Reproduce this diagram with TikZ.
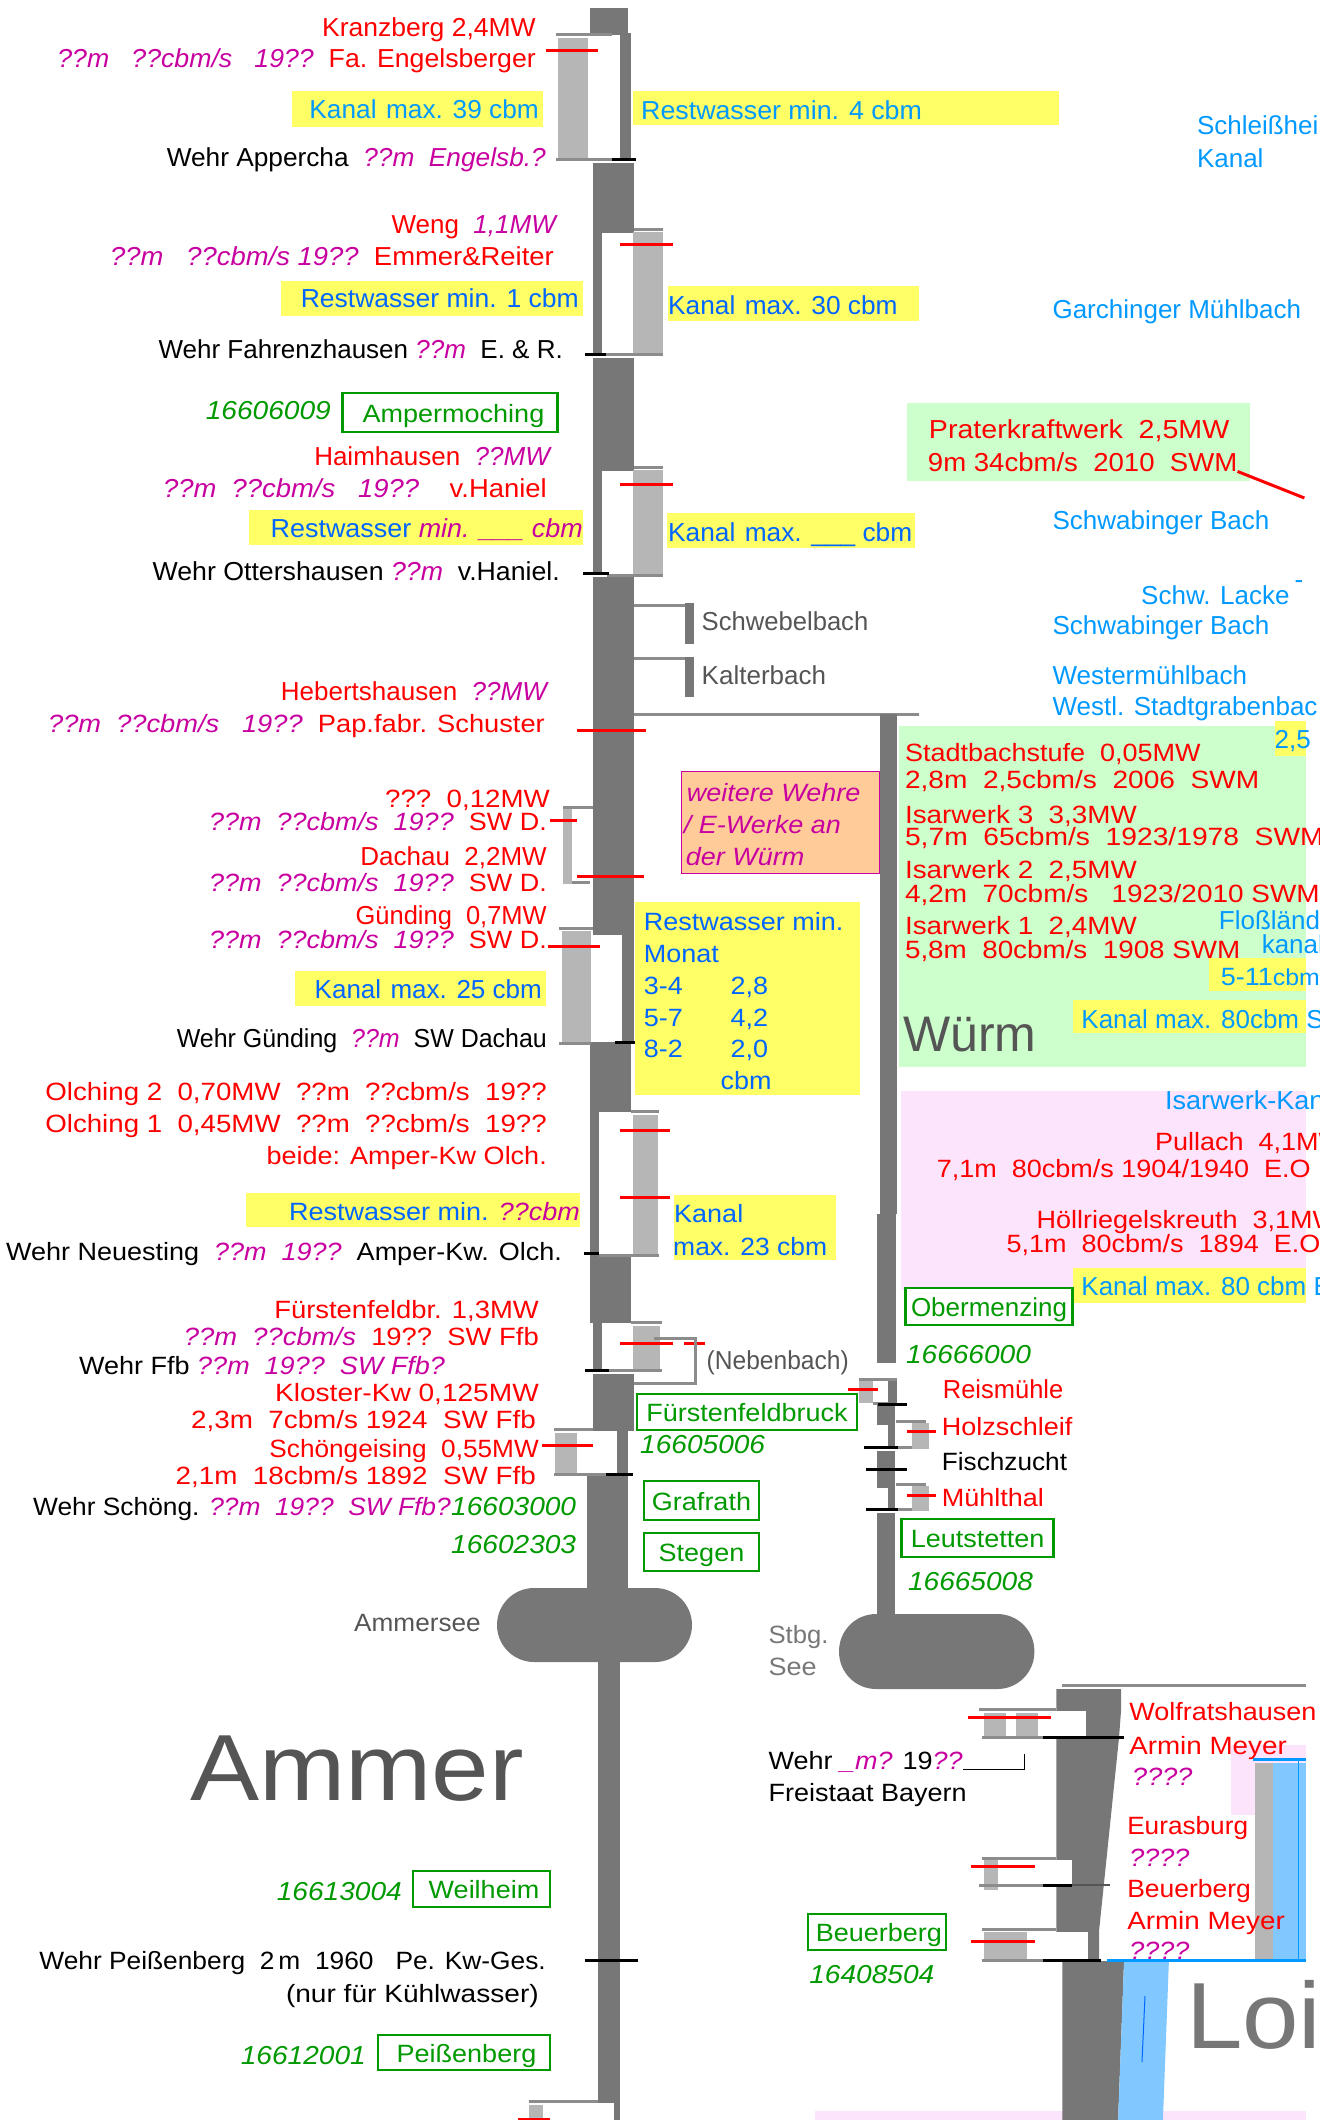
\documentclass[tikz,border=0pt]{standalone}
\usepackage{graphicx}
\usepackage{fontspec}
\setmainfont{Liberation Sans}
\newfontfamily\wfont[FakeStretch=1.08]{Liberation Sans}
\definecolor{rivergrey}{HTML}{777777}
\definecolor{canalgrey}{HTML}{B6B6B6}
\definecolor{sillgrey}{HTML}{8C8C8C}
\definecolor{labelgrey}{HTML}{555555}
\definecolor{unknownmag}{HTML}{C800A0}
\definecolor{flowblue}{HTML}{0066FF}
\definecolor{namedblue}{HTML}{0099FF}
\definecolor{hiyellow}{HTML}{FFFF66}
\definecolor{hipink}{HTML}{FCE4FC}
\definecolor{higreen}{HTML}{CCFFCC}
\definecolor{hiorange}{HTML}{FFCC99}
\definecolor{gaugegreen}{HTML}{009900}
\definecolor{lightwater}{HTML}{80C8FF}
\newcommand{\unk}[1]{{\itshape\color{unknownmag}#1}}
\newcommand{\sx}[2]{\scalebox{#1}[1]{#2}}
\newcommand{\gap}{\hspace{.36em}}
\tikzset{
  every node/.style={font=\fontsize{26}{30}\selectfont,inner sep=0pt},
  wide/.style={font=\wfont\fontsize{25}{30}\selectfont},
  lt/.style={anchor=base west},
  rt/.style={anchor=base east},
  kwtext/.style={text=red},
  wehrtext/.style={text=black},
  flowtext/.style={text=flowblue},
  nametext/.style={text=namedblue},
  greytext/.style={text=labelgrey},
  gaugetext/.style={text=gaugegreen,font=\wfont\itshape\fontsize{26}{30}\selectfont},
  station/.style={draw=gaugegreen,line width=2.5pt,text=gaugegreen,anchor=center,text height=19pt,text depth=0pt},
  river/.style={fill=rivergrey},
  canal/.style={fill=canalgrey},
  whitecut/.style={fill=white},
  sill/.style={draw=sillgrey,line width=3pt},
  kwline/.style={draw=red,line width=3pt},
  wehrline/.style={draw=black,line width=3pt},
  rightcol/.style={x=0.9965pt}
}
\begin{document}
\begin{tikzpicture}[x=1pt,y=-1pt]
\useasboundingbox (0,0) rectangle (1325,2120);
\clip (0,0) rectangle (1319,2120);

% backgrounds
\begin{scope}[rightcol]
\fill[hipink] (1235,1745) rectangle (1311,1815);
\fill[hipink] (818,2111) rectangle (1311,2120);
\fill[higreen] (910,403) rectangle (1254,481);
\fill[higreen] (902,726) rectangle (1311,1067);
\fill[hipink] (904,1091) rectangle (1311,1290);
\fill[hiyellow] (1279,721) rectangle (1311,756);
\fill[hiyellow] (1213,958) rectangle (1311,991);
\fill[hiyellow] (1077,1000) rectangle (1311,1033);
\fill[hiyellow] (1077,1268) rectangle (1311,1303);
\end{scope}
\fill[hiyellow] (292,91) rectangle (543,127);
\fill[hiyellow] (633,91) rectangle (1059,125);
\fill[hiyellow] (281,281) rectangle (583,316);
\fill[hiyellow] (668,286) rectangle (919,321);
\fill[hiyellow] (249,510) rectangle (583,545);
\fill[hiyellow] (667,513) rectangle (915,548);
\fill[hiyellow] (295,971) rectangle (546,1006);
\fill[hiyellow] (635,902) rectangle (860,1095);
\fill[hiyellow] (246,1193) rectangle (580,1227);
\fill[hiyellow] (674,1195) rectangle (836,1260);
\draw[fill=hiorange,draw=unknownmag,line width=1pt] (681,771) rectangle (879,873);

% Amper and Ammer
\fill[river] (590,8) rectangle (628,35);
\fill[river] (620,33) rectangle (631,159);
\fill[river] (593,163) rectangle (634,233);
\fill[river] (593,233) rectangle (602,354);
\fill[river] (593,358) rectangle (634,471);
\fill[river] (593,471) rectangle (602,575);
\fill[river] (593,577) rectangle (634,935);
\fill[river] (622,935) rectangle (634,1042);
\fill[river] (590,1042) rectangle (631,1112);
\fill[river] (590,1112) rectangle (599,1254);
\fill[river] (590,1255) rectangle (631,1323);
\fill[river] (593,1323) rectangle (602,1370);
\fill[river] (593,1374) rectangle (634,1431);
\fill[river] (617,1431) rectangle (628,1474);
\fill[river] (587,1475) rectangle (628,1588);
\fill[river,rounded corners=37pt] (497,1588) rectangle (692,1662);
\fill[river] (598,1662) rectangle (620,2103);
\fill[river] (614,2103) rectangle (620,2120);

% canals left column
\fill[canal] (558,38) rectangle (588,158);
\fill[canal] (633,232) rectangle (663,354);
\fill[canal] (633,470) rectangle (663,575);
\fill[canal] (563,807) rectangle (572,884);
\fill[canal] (562,931) rectangle (591,1042);
\fill[canal] (633,1115) rectangle (658,1255);
\fill[canal] (633,1326) rectangle (660,1372);
\fill[canal] (555,1433) rectangle (577,1475);
\fill[canal] (529,2105) rectangle (543,2120);
\draw[sill] (556,34) -- (612,34);
\draw[sill] (556,159) -- (631,159);
\draw[sill] (634,229) -- (663,229);
\draw[sill] (602,354) -- (663,354);
\draw[sill] (634,467) -- (663,467);
\draw[sill] (607,575) -- (663,575);
\draw[sill] (563,807) -- (593,807);
\draw[sill] (572,882) -- (590,882);
\draw[sill] (559,928) -- (593,928);
\draw[sill] (559,1043) -- (591,1043);
\draw[sill] (631,1111) -- (659,1111);
\draw[sill] (599,1255) -- (659,1255);
\draw[sill] (631,1322) -- (662,1322);
\draw[sill] (602,1370) -- (662,1370);
\draw[sill] (554,1429) -- (593,1429);
\draw[sill] (554,1474) -- (617,1474);
\draw[sill] (529,2101) -- (598,2101);
\draw[kwline] (546,50) -- (598,50);
\draw[kwline] (620,244) -- (673,244);
\draw[kwline] (620,484) -- (673,484);
\draw[kwline] (577,730) -- (646,730);
\draw[kwline] (550,820) -- (577,820);
\draw[kwline] (577,876) -- (644,876);
\draw[kwline] (548,946) -- (600,946);
\draw[kwline] (620,1130) -- (670,1130);
\draw[kwline] (620,1197) -- (670,1197);
\draw[kwline] (620,1343) -- (673,1343);
\draw[kwline] (684,1343) -- (705,1343);
\draw[kwline] (542,1445) -- (593,1445);
\draw[kwline] (518,2119) -- (550,2119);
\draw[wehrline] (612,159) -- (636,159);
\draw[wehrline] (585,354) -- (606,354);
\draw[wehrline] (583,573) -- (609,573);
\draw[wehrline] (615,1042) -- (635,1042);
\draw[wehrline] (584,1253) -- (599,1253);
\draw[wehrline] (585,1370) -- (609,1370);
\draw[wehrline] (606,1474) -- (633,1474);
\draw[wehrline] (585,1960) -- (638,1960);

% tributaries
\draw[sill] (634,605) -- (687,605);
\fill[river] (685,603) rectangle (694,644);
\draw[sill] (634,658) -- (687,658);
\fill[river] (685,657) rectangle (694,697);
\draw[sill] (654,1338) -- (695,1338) -- (695,1383) -- (634,1383);
\draw[sill] (634,714) -- (919,714);

\begin{scope}[rightcol]
% Wuerm
\fill[river] (883,714) rectangle (900,1214);
\fill[river] (880,1214) rectangle (899,1363);
\fill[river] (891,1379) rectangle (900,1403);
\fill[canal] (862,1380) rectangle (876,1403);
\draw[sill] (862,1379) -- (900,1379);
\draw[sill] (876,1403) -- (891,1403);
\fill[river] (880,1404) rectangle (898,1425);
\fill[river] (891,1425) rectangle (898,1447);
\fill[canal] (915,1423) rectangle (932,1449);
\draw[sill] (899,1421) -- (929,1421);
\draw[sill] (899,1447) -- (915,1447);
\fill[river] (880,1451) rectangle (898,1488);
\fill[river] (891,1488) rectangle (898,1509);
\fill[canal] (915,1486) rectangle (932,1511);
\draw[sill] (899,1484) -- (929,1484);
\draw[sill] (899,1509) -- (915,1509);
\fill[river] (880,1513) rectangle (898,1614);
\fill[river,rounded corners=37pt] (842,1614) rectangle (1038,1689);
\draw[kwline] (851,1389) -- (881,1389);
\draw[kwline] (910,1431) -- (939,1431);
\draw[kwline] (910,1495) -- (939,1495);
\draw[wehrline] (881,1404) -- (910,1404);
\draw[wehrline] (867,1447) -- (901,1447);
\draw[wehrline] (869,1469) -- (910,1469);
\draw[wehrline] (869,1509) -- (901,1509);

% Isar and Loisach
\fill[river] (1060,1689) -- (1125,1689) -- (1125,1710) -- (1123,1737) -- (1103,1930) -- (1103,1960) -- (1060,1960) -- cycle;
\fill[whitecut] (1047,1711) rectangle (1090,1736);
\fill[whitecut] (1047,1860) rectangle (1076,1884);
\fill[whitecut] (1047,1932) rectangle (1092,1959);
\fill[river] (1066,1961) -- (1128,1961) -- (1122,2120) -- (1066,2120) -- cycle;
\fill[lightwater] (1128,1961) -- (1173,1961) -- (1167,2120) -- (1122,2120) -- cycle;
\draw[draw=flowblue,line width=1pt] (1149,1996) -- (1146,2062);
\fill[canalgrey] (1259,1763) rectangle (1277,1960);
\fill[lightwater] (1277,1763) rectangle (1311,1960);
\draw[draw=namedblue,line width=1pt] (1303,1760) -- (1303,1960);
\draw[draw=namedblue,line width=3pt] (1257,1759) -- (1311,1759);
\draw[sill] (1066,1685) -- (1311,1685);
\fill[canal] (987,1713) rectangle (1010,1737);
\fill[canal] (1020,1713) rectangle (1042,1737);
\fill[canal] (987,1859) rectangle (1001,1890);
\fill[canal] (987,1932) rectangle (1031,1960);
\draw[sill] (982,1709) -- (1060,1709);
\draw[sill] (985,1737) -- (1047,1737);
\draw[sill] (985,1858) -- (1060,1858);
\draw[sill] (982,1885) -- (1047,1885);
\draw[sill] (985,1929) -- (1060,1929);
\draw[sill] (985,1960) -- (1047,1960);
\draw[kwline] (971,1717) -- (1055,1717);
\draw[kwline] (974,1866) -- (1039,1866);
\draw[kwline] (974,1941) -- (1039,1941);
\draw[wehrline] (1047,1737) -- (1128,1737);
\draw[wehrline] (1047,1885) -- (1076,1885);
\draw[draw=labelgrey,line width=1.5pt] (1076,1885) -- (1114,1885);
\draw[wehrline] (1047,1960) -- (1105,1960);
\end{scope}

% Kranzberg to Neuesting
\node[rt,kwtext](kranzberg) at (536,36) {\sx{1.02}{Kranzberg 2,4MW}};
\node[rt,kwtext](kranzbergdata) at (536,67) {\sx{1.026}{\unk{??m~~~??cbm/s~~~19??}~~Fa. Engelsberger}};
\node[rt,nametext](kanalapp) at (539,118) {\sx{1.01}{Kanal\gap max. 39 cbm}};
\node[lt,nametext](restapp) at (641,119) {\sx{1.03}{Restwasser min. 4 cbm}};
\node[rt,wehrtext](wehrapp) at (546,166) {\sx{1.01}{Wehr Appercha~~\unk{??m~~Engelsb.?}}};
\node[rt,kwtext](weng) at (556,233) {Weng~~\unk{1,1MW}};
\node[rt,kwtext](wengdata) at (554,265) {\sx{1.055}{\unk{??m~~~??cbm/s 19??}~~Emmer\&Reiter}};
\node[rt,flowtext](restweng) at (579,307) {\sx{1.02}{Restwasser min. 1 cbm}};
\node[lt,flowtext](kanalweng) at (668,314) {\sx{1.01}{Kanal\gap max. 30 cbm}};
\node[rt,wehrtext](wehrfahr) at (563,358) {Wehr Fahrenzhausen \unk{??m}~~E. \& R.};
\node[rt,gaugetext](gaugeamp) at (331,419) {16606009};
\node[station,wide,minimum width=215pt,minimum height=39pt](ampermoching) at (450,412.5) {\hspace{7pt}Ampermoching};
\node[rt,kwtext](haimhausen) at (550,465) {Haimhausen~~\unk{??MW}};
\node[rt,kwtext](haimdata) at (547,497) {\sx{1.055}{\unk{??m~~??cbm/s~~~19??}~~~~v.Haniel}};
\node[rt,flowtext](resthaim) at (583,537) {\sx{1.035}{Restwasser \unk{min. \_\_\_ cbm}}};
\node[lt,flowtext](kanalhaim) at (668,541) {\sx{1.01}{Kanal\gap max. \_\_\_ cbm}};
\node[rt,wehrtext](wehrott) at (560,580) {\sx{1.027}{Wehr Ottershausen \unk{??m}~~v.Haniel.}};
\node[rt,kwtext](hebert) at (547,700) {Hebertshausen~~\unk{??MW}};
\node[rt,kwtext,wide](hebertdata) at (545,732) {\sx{1.01}{\unk{??m~~??cbm/s~~~19??}~~Pap.fabr. Schuster}};
\node[rt,kwtext,wide](dachauq) at (550,807) {\sx{1.025}{???~~0,12MW}};
\node[rt,kwtext,wide](dachauqdata) at (547,830) {\unk{??m~~??cbm/s~~19??}~~SW D.};
\node[rt,kwtext](dachau) at (547,865) {Dachau~~2,2MW};
\node[rt,kwtext,wide](dachaudata) at (547,891) {\unk{??m~~??cbm/s~~19??}~~SW D.};
\node[rt,kwtext](guending) at (547,924) {\sx{.98}{Günding~~0,7MW}};
\node[rt,kwtext,wide](guendingdata) at (547,948) {\unk{??m~~??cbm/s~~19??}~~SW D.};
\node[rt,flowtext](kanalguend) at (542,998) {Kanal\gap max. 25 cbm};
\node[rt,wehrtext](wehrguend) at (547,1047) {\sx{.96}{Wehr Günding~~\unk{??m}~~SW Dachau}};
\node[rt,kwtext,wide](olching2) at (547,1100) {\sx{1.025}{Olching 2~~0,70MW~~??m~~??cbm/s~~19??}};
\node[rt,kwtext,wide](olching1) at (547,1132) {\sx{1.025}{Olching 1~~0,45MW~~??m~~??cbm/s~~19??}};
\node[rt,kwtext,wide](olchingboth) at (547,1164) {beide: Amper-Kw Olch.};
\node[rt,flowtext,wide](restolch) at (580,1220) {Restwasser min. \unk{??cbm}};
\node[lt,flowtext,wide](kanalolch1) at (674,1222) {Kanal};
\node[lt,flowtext,wide](kanalolch2) at (673,1255) {\sx{.98}{max. 23 cbm}};
\node[rt,wehrtext,wide](wehrneu) at (562,1260) {Wehr Neuesting~~\unk{??m}~~\unk{19??}~~Amper-Kw. Olch.};

% Fuerstenfeldbruck to Peissenberg
\node[rt,kwtext,wide](ffb) at (539,1318) {\sx{1.015}{Fürstenfeldbr. 1,3MW}};
\node[rt,kwtext,wide](ffbdata) at (539,1345) {\sx{1.015}{\unk{??m~~??cbm/s}~~19??~~SW Ffb}};
\node[lt,wehrtext,wide](wehrffb) at (79,1374) {Wehr Ffb \unk{??m~~19??~~SW Ffb?}};
\node[rt,kwtext,wide](kloster) at (539,1401) {\sx{1.04}{Kloster-Kw 0,125MW}};
\node[rt,kwtext,wide](klosterdata) at (536,1428) {\sx{1.03}{2,3m~~7cbm/s 1924~~SW Ffb}};
\node[rt,kwtext,wide](schoen) at (539,1457) {\sx{.97}{Schöngeising~~0,55MW}};
\node[rt,kwtext,wide](schoendata) at (536,1484) {\sx{1.03}{2,1m~~18cbm/s 1892~~SW Ffb}};
\node[lt,wehrtext,wide](wehrschoen) at (33,1515) {\sx{.975}{Wehr Schöng. \unk{??m~~19??~~SW Ffb?}}};
\node[lt,gaugetext](gaugeschoen) at (451,1515) {16603000};
\node[lt,gaugetext](gaugestegen) at (451,1553) {16602303};
\node[station,wide,minimum width=220pt,minimum height=36pt](fuerstenfeld) at (747,1412) {Fürstenfeldbruck};
\node[lt,gaugetext](gaugeffb) at (640,1453) {16605006};
\node[station,wide,minimum width=115pt,minimum height=39pt](grafrath) at (701.5,1500.5) {Grafrath};
\node[station,wide,minimum width=115pt,minimum height=38pt](stegen) at (701.5,1552) {Stegen\hspace{14pt}};
\node[lt,greytext,wide](ammersee) at (354,1631) {\sx{.97}{Ammersee}};
\node[lt,greytext,font=\wfont\fontsize{94}{100}\selectfont](ammer) at (190,1800) {\sx{1.02}{Ammer}};
\node[rt,gaugetext](gaugeweil) at (402,1900) {16613004};
\node[station,wide,minimum width=137pt,minimum height=36pt](weilheim) at (481.5,1889) {\hspace{5pt}Weilheim};
\node[rt,wehrtext,wide](wehrpeiss) at (546,1969) {\sx{.975}{Wehr Peißenberg~~2\,m~~1960~~~Pe. Kw-Ges.}};
\node[rt,wehrtext,wide](kuehl) at (539,2002) {\sx{1.04}{(nur für Kühlwasser)}};
\node[rt,gaugetext](gaugepeiss) at (366,2064) {16612001};
\node[station,wide,minimum width=172pt,minimum height=35pt](peissenberg) at (464,2052.5) {\hspace{5pt}Peißenberg};

% tributary names and Wuerm column
\begin{scope}[rightcol]
\node[lt,greytext](schwebel) at (704,630) {\sx{.985}{Schwebelbach}};
\node[lt,greytext](kalter) at (704,684) {Kalterbach};
\node[lt,greytext](nebenbach) at (709,1369) {\sx{.945}{(Nebenbach)}};
\node[lt,nametext](schleiss) at (1201,134) {Schleißhei};
\node[lt,nametext](schleisskanal) at (1201,167) {Kanal};
\node[lt,nametext](garching) at (1056,318) {Garchinger Mühlbach};
\node[lt,kwtext](prater) at (932,438) {\sx{1.1}{Praterkraftwerk~~2,5MW}};
\node[lt,kwtext](praterdata) at (931,471) {\sx{1.06}{9m 34cbm/s~~2010~~SWM}};
\coordinate (praterend) at (1309,498);
\draw[kwline] (praterdata.south east) -- (praterend);
\node[lt,nametext](schwabing) at (1056,529) {Schwabinger Bach};
\node[lt,nametext](schwlacke) at (1145,604) {Schw. Lacke};
\node[lt,nametext](schwdash) at (1299,588) {-};
\node[lt,nametext](schwabing2) at (1056,634) {Schwabinger Bach};
\node[lt,nametext](westermuehl) at (1056,684) {Westermühlbach};
\node[lt,nametext](stadtgraben) at (1056,715) {Westl. Stadtgrabenbac};
\node[lt,nametext](twofive) at (1279,748) {2,5};
\node[lt,text=unknownmag,font=\wfont\itshape\fontsize{25}{30}\selectfont](further1) at (689,801) {weitere Wehre};
\node[lt,text=unknownmag,font=\wfont\itshape\fontsize{25}{30}\selectfont](further2) at (686,833) {/ E-Werke an};
\node[lt,text=unknownmag,font=\wfont\itshape\fontsize{25}{30}\selectfont](further3) at (688,865) {der Würm};
\node[lt,flowtext,wide](restmonat) at (646,930) {Restwasser min.};
\node[lt,flowtext,wide](monat) at (646,962) {Monat};
\node[lt,flowtext,wide](mon34) at (646,994) {3-4};
\node[lt,flowtext,wide](val34) at (733,994) {2,8};
\node[lt,flowtext,wide](mon57) at (646,1026) {5-7};
\node[lt,flowtext,wide](val57) at (733,1026) {4,2};
\node[lt,flowtext,wide](mon82) at (646,1057) {8-2};
\node[lt,flowtext,wide](val82) at (733,1057) {2,0};
\node[lt,flowtext,wide](valunit) at (723,1089) {cbm};
\node[lt,kwtext,wide](stadtbach) at (908,761) {Stadtbachstufe~~0,05MW};
\node[lt,kwtext,wide](stadtbachdata) at (908,788) {\sx{1.04}{2,8m~~2,5cbm/s~~2006~~SWM}};
\node[lt,kwtext,wide](isar3) at (908,823) {\sx{1.03}{Isarwerk 3~~3,3MW}};
\node[lt,kwtext,wide](isar3data) at (908,845) {\sx{1.045}{5,7m~~65cbm/s~~1923/1978~~SWM}};
\node[lt,kwtext,wide](isar2) at (908,878) {\sx{1.03}{Isarwerk 2~~2,5MW}};
\node[lt,kwtext,wide](isar2data) at (908,902) {\sx{1.035}{4,2m~~70cbm/s~~~1923/2010 SWM}};
\node[lt,kwtext,wide](isar1) at (908,934) {\sx{1.03}{Isarwerk 1~~2,4MW}};
\node[lt,kwtext,wide](isar1data) at (908,958) {\sx{1.03}{5,8m~~80cbm/s~~1908 SWM}};
\node[lt,nametext](flossland) at (1223,929) {Floßländ};
\node[lt,nametext](flosskanal) at (1266,953) {kanal};
\node[lt,nametext,wide](fiveeleven) at (1225,985) {5-11\fontsize{23}{26}\selectfont cbm};
\node[lt,nametext](kanal80s) at (1085,1028) {Kanal max. 80cbm S};
\node[lt,greytext,font=\fontsize{50}{54}\selectfont](wuerm) at (906,1051) {Würm};
\node[lt,nametext](isarkanal) at (1169,1109) {\sx{1.04}{Isarwerk-Kan}};
\node[lt,kwtext,wide](pullach) at (1159,1150) {Pullach~~4,1MW};
\node[lt,kwtext,wide](pullachdata) at (940,1177) {7,1m~~80cbm/s 1904/1940~~E.O};
\node[lt,kwtext,wide](hoell) at (1040,1228) {Höllriegelskreuth~~3,1MW};
\node[lt,kwtext,wide](hoelldata) at (1010,1252) {5,1m~~80cbm/s~~1894~~E.O};
\node[lt,nametext](kanal80e) at (1085,1295) {Kanal max. 80 cbm E};
\node[station,fill=white,minimum width=167pt,minimum height=37pt](obermenzing) at (992.5,1306.5) {Obermenzing};
\node[lt,gaugetext](gaugeober) at (909,1363) {16666000};
\node[lt,kwtext](reis) at (946,1398) {\sx{.98}{Reismühle}};
\node[lt,kwtext,wide](holz) at (945,1435) {Holzschleif};
\node[lt,wehrtext,wide](fisch) at (945,1470) {\sx{.97}{Fischzucht}};
\node[lt,kwtext,wide](muehlthal) at (945,1506) {Mühlthal};
\node[station,wide,minimum width=152pt,minimum height=38pt](leut) at (981,1538) {Leutstetten};
\node[lt,gaugetext](gaugeleut) at (911,1590) {16665008};

% Stbg. See and Loisach labels
\node[lt,text=rivergrey,wide](stbg) at (771,1643) {\sx{.95}{Stbg.}};
\node[lt,text=rivergrey,wide](see) at (771,1675) {See};
\node[lt,wehrtext,wide](wehrwolf) at (771,1769) {Wehr \unk{\_m?} 19\unk{??}};
\coordinate (wolfknee) at (1028,1769);
\coordinate (wolfend) at (1028,1754);
\draw[draw=black,line width=1pt] (wehrwolf.base east) -- (wolfknee) -- (wolfend);
\node[lt,wehrtext,wide](bayern) at (771,1801) {Freistaat Bayern};
\node[lt,kwtext,wide](wolfrats) at (1133,1720) {Wolfratshausen};
\node[lt,kwtext,wide](meyer1) at (1133,1754) {\sx{1.03}{Armin Meyer}};
\node[lt,kwtext,wide](qmark1) at (1136,1785) {\unk{????}};
\node[lt,kwtext,wide](eurasburg) at (1131,1834) {\sx{.97}{Eurasburg}};
\node[lt,kwtext,wide](qmark2) at (1133,1866) {\unk{????}};
\node[lt,kwtext,wide](beuerkw) at (1131,1897) {\sx{.98}{Beuerberg}};
\node[lt,kwtext,wide](meyer2) at (1131,1929) {\sx{1.03}{Armin Meyer}};
\node[lt,kwtext,wide](qmark3) at (1133,1959) {\unk{????}};
\draw[draw=namedblue,line width=3pt] (1111,1960) -- (1311,1960);
\node[station,wide,minimum width=138pt,minimum height=36pt](beuerberg) at (880,1932) {\hspace{4pt}Beuerberg};
\node[lt,gaugetext](gaugebeuer) at (812,1983) {16408504};
\node[lt,text=rivergrey,font=\wfont\fontsize{94}{100}\selectfont](loisach) at (1190,2048) {Loi};
\end{scope}
\end{tikzpicture}
\end{document}
